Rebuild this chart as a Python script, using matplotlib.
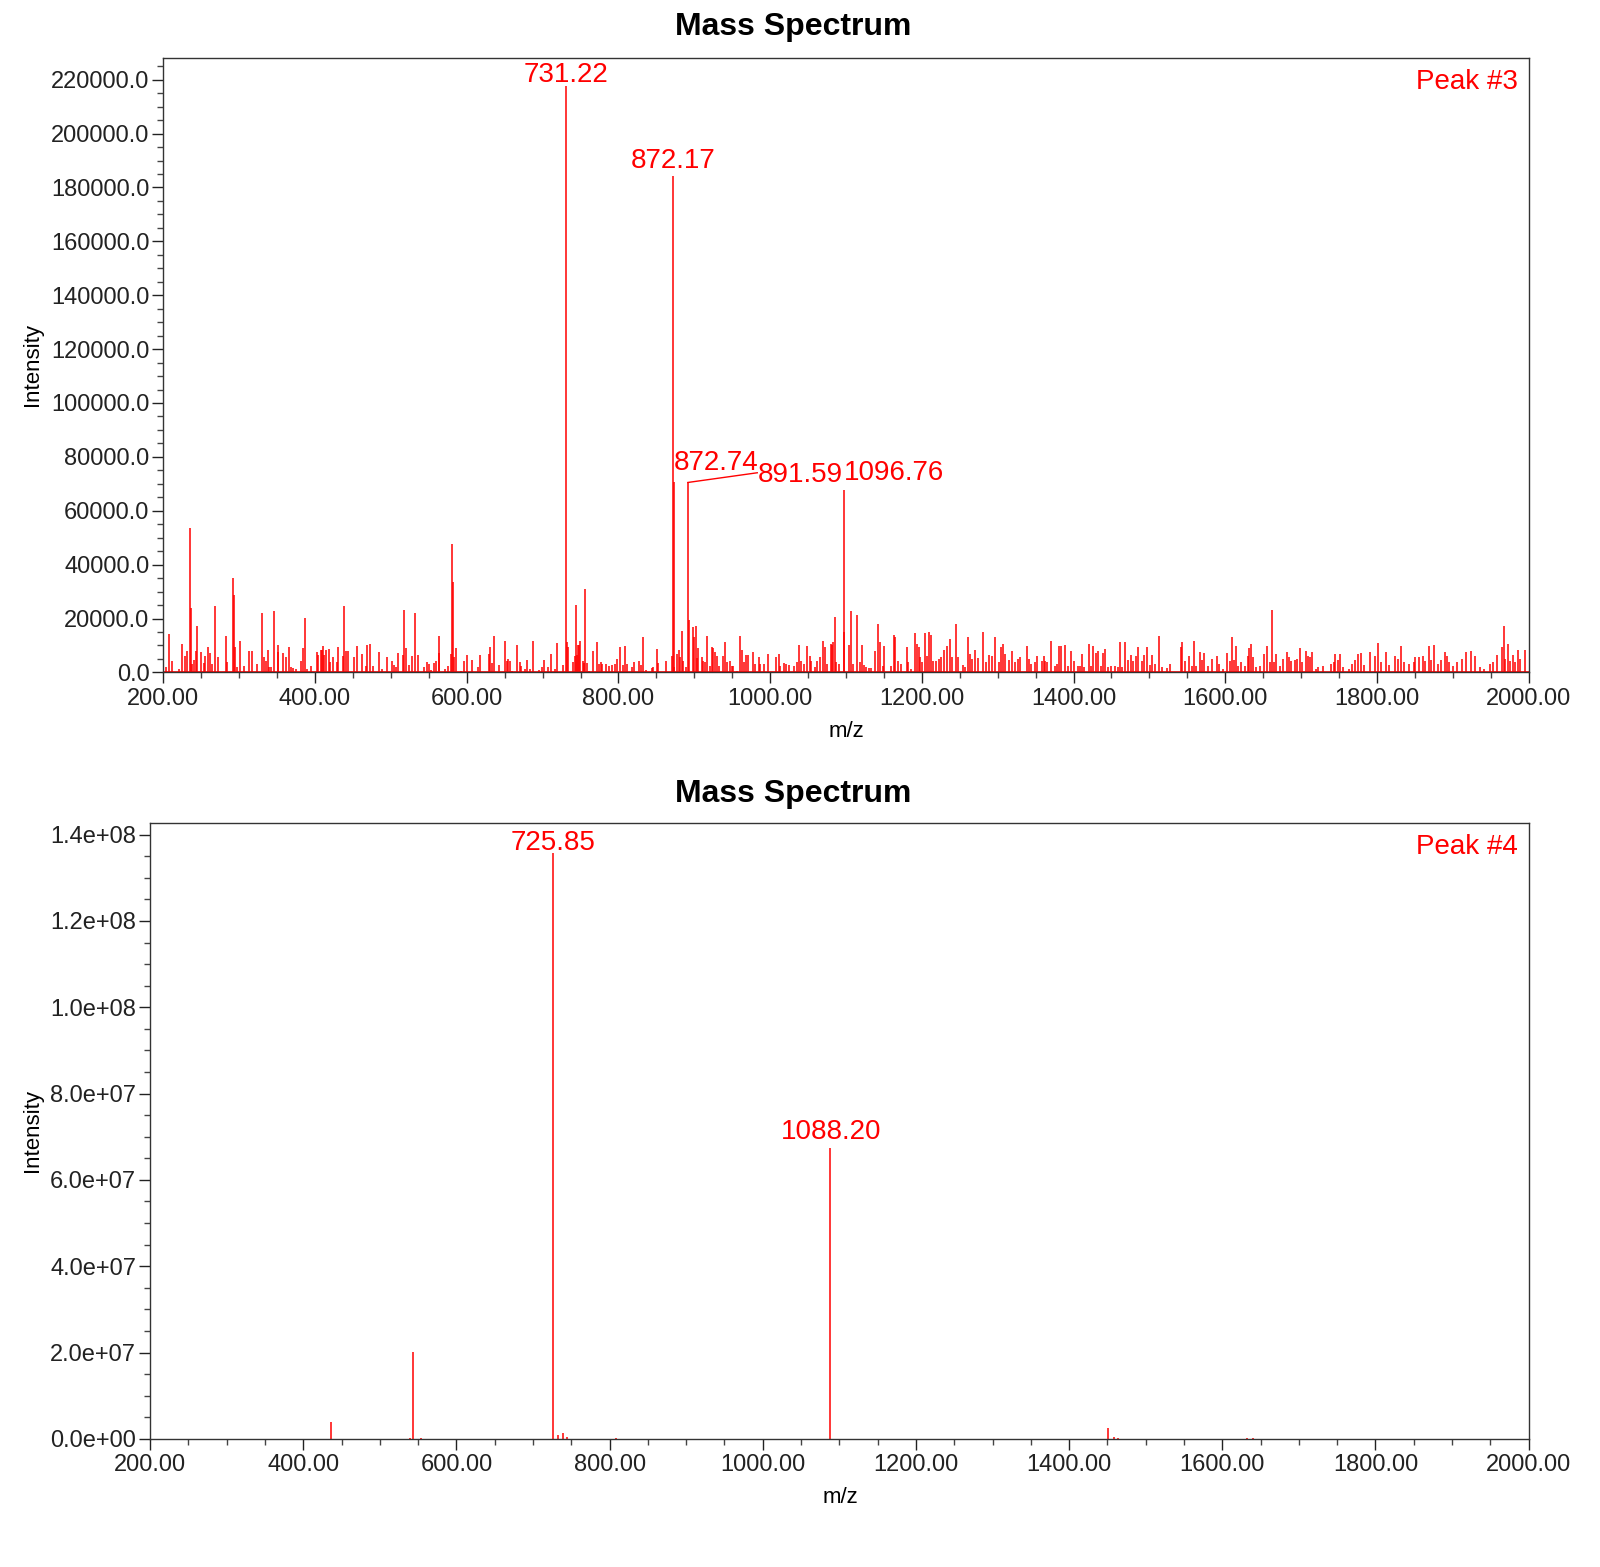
import numpy as np
import matplotlib.pyplot as plt
from matplotlib.ticker import MultipleLocator, FuncFormatter

plt.rcParams['font.family'] = ['Liberation Sans', 'DejaVu Sans']

# ---- Peak #3 spectrum ----
# labelled peaks
top_peak_mz = [731.22, 872.17, 872.74, 891.59, 1096.76]
top_peak_int = [217600, 184300, 70700, 70500, 67800]

# background peaks
top_mz = [
    203, 207.5, 211, 221, 224, 229, 231.6, 234.7, 236.5, 238, 241, 243.5, 244.4, 249, 253.6, 255,
    259, 261, 263.7, 268, 271.6, 282.6, 284, 291.9, 293, 295, 297, 300.6, 306.8, 312.5, 316.9, 323,
    330, 332.7, 335, 337.6, 339.8, 341.5, 346, 351, 351.6, 357.3, 361.7, 366, 368.8, 371.4, 375, 381,
    383.7, 387, 390, 395, 403, 404.4, 407.4, 409, 411, 412, 414, 418.4, 420, 424, 429, 430.7,
    436.5, 438, 441, 444, 451, 455.8, 462, 467.6, 469, 473, 477, 484.8, 488.8, 495, 502, 503.7,
    507, 510, 516.4, 517.8, 520, 524, 528, 532, 536, 543, 548, 550.7, 553, 557, 560, 563,
    564, 571, 575, 579, 581, 582, 583.7, 586, 592, 597, 600, 607, 614.4, 618, 629, 630,
    633.8, 636, 642.5, 650, 652.7, 654.5, 657.5, 660, 666, 669.6, 671.6, 677, 680, 683, 687.4, 695.8,
    698.8, 702, 707.6, 711, 717, 719.5, 727.4, 732.7, 734, 740.6, 742.8, 743.7, 745, 746.3, 747.6, 749.4,
    753.8, 755, 756.5, 758, 760.8, 767, 772, 775, 776.6, 778.8, 783, 788, 791, 795, 798.6, 801.7,
    805.7, 808.7, 811.8, 817.5, 821, 826.8, 830, 833, 836, 844, 846, 850.5, 852.3, 863, 870.7, 873.8,
    877.7, 879.5, 881.3, 884, 885.6, 889, 892.5, 898, 899.7, 902.3, 903.7, 905.4, 910.3, 912, 914, 917.3,
    920.8, 923, 925.2, 927.8, 930.5, 933, 937.5, 941, 943, 946.7, 949.4, 951.6, 956.4, 960.4, 963.4, 965.6,
    968.3, 971, 978, 980, 985, 987.2, 992, 997.3, 1007.4, 1011.3, 1013, 1018, 1021, 1025.4, 1031, 1035.5,
    1038.6, 1040.3, 1044.8, 1049, 1052.7, 1054.4, 1058.8, 1062, 1066.3, 1069.4, 1072.8, 1075.5, 1080, 1081.7, 1083.4, 1085.2,
    1086.5, 1091.3, 1097.9, 1103.6, 1106.3, 1109.8, 1115, 1118, 1121.2, 1123.8, 1126.5, 1130, 1132.7, 1138.8, 1142.8, 1145,
    1148.5, 1150.7, 1159, 1163, 1165.2, 1169, 1172.2, 1180, 1182.3, 1185.8, 1191.5, 1193.7, 1196, 1197.7, 1199.9, 1204.7,
    1206.5, 1209, 1212.6, 1215.3, 1218.3, 1223.2, 1225.4, 1229, 1232.8, 1237.7, 1239.9, 1244.7, 1247.4, 1254.4, 1257, 1260.5,
    1263.6, 1266.3, 1270.6, 1273.7, 1280.3, 1284.7, 1289, 1292.2, 1297, 1301.4, 1305, 1307.6, 1310.2, 1315.5, 1319.4, 1323.4,
    1326.5, 1329, 1338.3, 1341, 1344, 1348.9, 1351.3, 1358.6, 1360.6, 1363, 1365.4, 1370.8, 1375, 1378, 1381, 1383.4,
    1388.3, 1392.7, 1396, 1400, 1405.4, 1408.3, 1410.7, 1414, 1420, 1422.4, 1425.8, 1429.2, 1432.6, 1435.6, 1438.5, 1441,
    1444.8, 1449, 1455, 1458, 1460.9, 1464.3, 1468.2, 1472, 1475.5, 1478.4, 1482.8, 1485, 1490, 1492.4, 1497.4, 1500.3,
    1502.8, 1508, 1513, 1516.9, 1523, 1527, 1541.7, 1543, 1546.6, 1552.4, 1556.3, 1559, 1561.7, 1566.5, 1569, 1572.4,
    1577.8, 1582.6, 1589.4, 1591.4, 1596.7, 1602.6, 1606.5, 1609.4, 1611.8, 1614.3, 1616.7, 1620.6, 1625.5, 1629.4, 1631.3, 1633.7,
    1636, 1641, 1646, 1650.8, 1655.2, 1658.6, 1661.5, 1664.4, 1667.4, 1672.7, 1676, 1682, 1684.4, 1687.3, 1692.2, 1694,
    1698.5, 1701.5, 1706.8, 1708.8, 1712.2, 1714.6, 1719.5, 1722.9, 1728.7, 1740, 1742.8, 1744.8, 1748.7, 1751.1, 1755, 1763.3,
    1767.7, 1771, 1775, 1778.4, 1782.3, 1791, 1796.9, 1801.8, 1805.2, 1811.5, 1815.4, 1824.2, 1828, 1832, 1835.9, 1841.7,
    1848.5, 1850.5, 1855.3, 1860.2, 1864, 1868.5, 1871.4, 1875.8, 1881.1, 1884.6, 1889.4, 1892.4, 1895.3, 1900.1, 1905.5, 1912.8,
    1917.7, 1923.5, 1929.4, 1935.7, 1941.5, 1949.3, 1952.7, 1958.6, 1964.4, 1966.9, 1969.3, 1972.2, 1975.6, 1979.5, 1981.9, 1985.8,
    1988.3, 1994.6,
]
top_int = [
    1900, 14300, 4300, 1200, 10500, 6200, 8000, 53600, 23900, 3100, 4700, 7800, 17200, 7400, 3500, 6000,
    9300, 7100, 3100, 24500, 5600, 13500, 4000, 35100, 28900, 9500, 1900, 11800, 2200, 8100, 8100, 3100,
    22200, 5800, 4300, 8400, 1900, 2100, 22900, 10200, 7400, 7200, 5600, 9500, 1900, 1600, 1200, 4300,
    8900, 20200, 1200, 2500, 7700, 6400, 8300, 8400, 9700, 6600, 8300, 8800, 3700, 5600, 3700, 9500,
    6200, 24700, 8100, 7800, 5600, 9800, 6800, 2200, 10300, 10500, 2200, 7400, 1200, 5600, 4100, 2900,
    1900, 7200, 6400, 23300, 8900, 2900, 6000, 22200, 6600, 1900, 3700, 3100, 900, 3500, 4100, 7100,
    13600, 1200, 2200, 6800, 47500, 33700, 5600, 8900, 600, 4100, 6600, 4700, 1900, 6600, 6800, 9300,
    3500, 13600, 2900, 11500, 4300, 5000, 4100, 600, 10300, 3700, 2200, 1200, 4700, 1200, 11800, 1000,
    1900, 4700, 1900, 6800, 1200, 10900, 2900, 11200, 9300, 3700, 6000, 24900, 6400, 10300, 10300, 11800,
    4100, 3500, 31000, 3500, 400, 8100, 11400, 3100, 4000, 3100, 3100, 2500, 2900, 3100, 5000, 9300,
    2900, 9800, 3100, 1900, 3700, 4300, 2700, 13300, 1000, 1500, 1900, 8800, 3500, 4100, 6200, 1900,
    6800, 8300, 5600, 15500, 4100, 1900, 19600, 16700, 13000, 17100, 5200, 8900, 5600, 4100, 3700, 13600,
    2500, 9500, 8900, 7700, 6000, 2200, 6200, 11400, 3700, 4300, 2500, 2200, 600, 13600, 8400, 3700,
    6600, 6600, 7400, 3100, 5800, 3100, 3100, 6800, 5600, 6800, 2200, 3500, 3100, 2700, 2200, 4000,
    10300, 4300, 3100, 9700, 6200, 4300, 1900, 4300, 5600, 11800, 9300, 3100, 10500, 10300, 11400, 20700,
    4000, 3100, 14900, 10300, 22900, 3100, 21200, 3700, 10200, 2700, 1900, 1600, 1600, 8100, 17900, 11200,
    2200, 9700, 2500, 13900, 13000, 4300, 3100, 9300, 3700, 1200, 14600, 10500, 9300, 5600, 3700, 14500,
    6200, 15100, 13900, 4300, 4300, 4800, 5600, 8400, 9900, 12400, 5600, 18100, 5600, 2700, 1900, 13000,
    6800, 5000, 8300, 5300, 15100, 3700, 6400, 6200, 13300, 3700, 9300, 10500, 6800, 4700, 7800, 4000,
    5000, 5600, 9800, 5000, 3100, 3700, 6200, 4300, 6200, 4100, 4000, 11800, 2500, 3100, 9800, 9800,
    10200, 2200, 8100, 4300, 2500, 2200, 6800, 1900, 10500, 2200, 9900, 7100, 8100, 2200, 7300, 8800,
    2100, 2200, 2200, 1900, 11200, 2100, 11200, 4600, 6600, 4300, 6200, 9500, 4300, 6600, 9500, 2700,
    6600, 3100, 13500, 1900, 1500, 3100, 9300, 11200, 4300, 6200, 2500, 11800, 2200, 7400, 4600, 7100,
    2500, 5000, 6200, 3100, 1200, 7200, 4300, 13300, 4700, 9700, 2200, 3700, 2200, 6000, 8900, 10500,
    5600, 1900, 2500, 6800, 9800, 3700, 23300, 3700, 6800, 2500, 5000, 7400, 5800, 4300, 4700, 5000,
    8900, 3700, 8100, 6200, 5600, 7400, 1200, 2100, 2200, 3300, 3700, 6800, 4700, 6800, 1900, 1200,
    3100, 4600, 6800, 7300, 2700, 7400, 6200, 10800, 3700, 7400, 2700, 6200, 5000, 9800, 3700, 3100,
    3700, 5600, 5600, 6200, 4300, 9800, 4600, 10000, 3300, 4700, 7400, 6200, 3700, 2500, 4000, 5000,
    7400, 8100, 6200, 1900, 1200, 3100, 3700, 6600, 9300, 17200, 5000, 10500, 4300, 6600, 3700, 8400,
    5000, 8400,
]

# ---- Peak #4 spectrum ----
bot_peak_mz = [725.85, 1088.20]
bot_peak_int = [1.357e8, 6.74e7]
bot_mz = [435.8, 540.0, 543.7, 554.0, 733.0, 738.7, 744.0, 809.0, 1451.0, 1458.0, 1464.0, 1632.0, 1640.0]
bot_int = [4.0e6, 3.0e5, 2.01e7, 3.0e5, 7.7e5, 1.3e6, 4.0e5, 3.0e5, 2.4e6, 4.0e5, 3.0e5, 2.0e5, 2.0e5]

red = '#FF0000'
lab_fs = 20
tick_fs = 17


def style_axes(ax, ymax, ymajor, yminor, yfmt):
    ax.set_xlim(200, 2000)
    ax.set_ylim(0, ymax)
    ax.xaxis.set_major_locator(MultipleLocator(200))
    ax.xaxis.set_minor_locator(MultipleLocator(50))
    ax.yaxis.set_major_locator(MultipleLocator(ymajor))
    ax.yaxis.set_minor_locator(MultipleLocator(yminor))
    ax.xaxis.set_major_formatter(FuncFormatter(lambda v, p: f'{v:.2f}'))
    ax.yaxis.set_major_formatter(FuncFormatter(yfmt))
    ax.tick_params(axis='both', which='major', direction='out', length=8, width=1,
                   labelsize=tick_fs, colors='#222222')
    ax.tick_params(axis='both', which='minor', direction='out', length=4, width=1,
                   colors='#444444')
    ax.tick_params(axis='x', which='major', pad=3)
    ax.tick_params(axis='y', which='major', pad=2)
    for s in ax.spines.values():
        s.set_color('#333333')
        s.set_linewidth(1.0)


fig = plt.figure(figsize=(16, 15.67), dpi=100)

# top panel
ax1 = fig.add_axes([0.1021, 0.5709, 0.8533, 0.3920])
ax1.vlines(top_mz, 0, top_int, color=red, lw=1.1)
ax1.vlines(top_peak_mz, 0, top_peak_int, color=red, lw=1.1)
ax1.axhline(0, color=red, lw=1.2)
style_axes(ax1, 228000, 20000, 5000, lambda v, p: f'{v:.1f}')

ax1.text(731.3, 219000, '731.22', color=red, fontsize=lab_fs, ha='center', va='baseline')
ax1.text(872.2, 187300, '872.17', color=red, fontsize=lab_fs, ha='center', va='baseline')
ax1.text(872.7, 75200, '872.74', color=red, fontsize=lab_fs, ha='left', va='baseline')
ax1.plot([891.59, 983], [70500, 74100], color=red, lw=1.0)
ax1.text(983, 70800, '891.59', color=red, fontsize=lab_fs, ha='left', va='baseline')
ax1.text(1096.8, 71500, '1096.76', color=red, fontsize=lab_fs, ha='left', va='baseline')
ax1.text(0.9922, 0.950, 'Peak #3', color=red, fontsize=lab_fs, ha='right', va='baseline',
         transform=ax1.transAxes)

# bottom panel
ax2 = fig.add_axes([0.0938, 0.0818, 0.8616, 0.3927])
ax2.vlines(bot_mz, 0, bot_int, color=red, lw=1.1)
ax2.vlines(bot_peak_mz, 0, bot_peak_int, color=red, lw=1.1)
style_axes(ax2, 1.426e8, 2e7, 5e6, lambda v, p: f'{v:.1e}')

ax2.text(726.2, 1.3645e8, '725.85', color=red, fontsize=lab_fs, ha='center', va='baseline')
ax2.text(1088.7, 6.95e7, '1088.20', color=red, fontsize=lab_fs, ha='center', va='baseline')
ax2.text(0.9923, 0.950, 'Peak #4', color=red, fontsize=lab_fs, ha='right', va='baseline',
         transform=ax2.transAxes)

# titles and axis labels
fig.text(0.496, 0.9826, 'Mass Spectrum', fontsize=23, fontweight='bold', ha='center', va='center')
fig.text(0.496, 0.4934, 'Mass Spectrum', fontsize=23, fontweight='bold', ha='center', va='center')
fig.text(0.529, 0.5335, 'm/z', fontsize=16, ha='center', va='center')
fig.text(0.525, 0.0443, 'm/z', fontsize=16, ha='center', va='center')
fig.text(0.0204, 0.7677, 'Intensity', fontsize=16, rotation=90, ha='center', va='center')
fig.text(0.0204, 0.2785, 'Intensity', fontsize=16, rotation=90, ha='center', va='center')

fig.savefig('out.png', dpi=100)
